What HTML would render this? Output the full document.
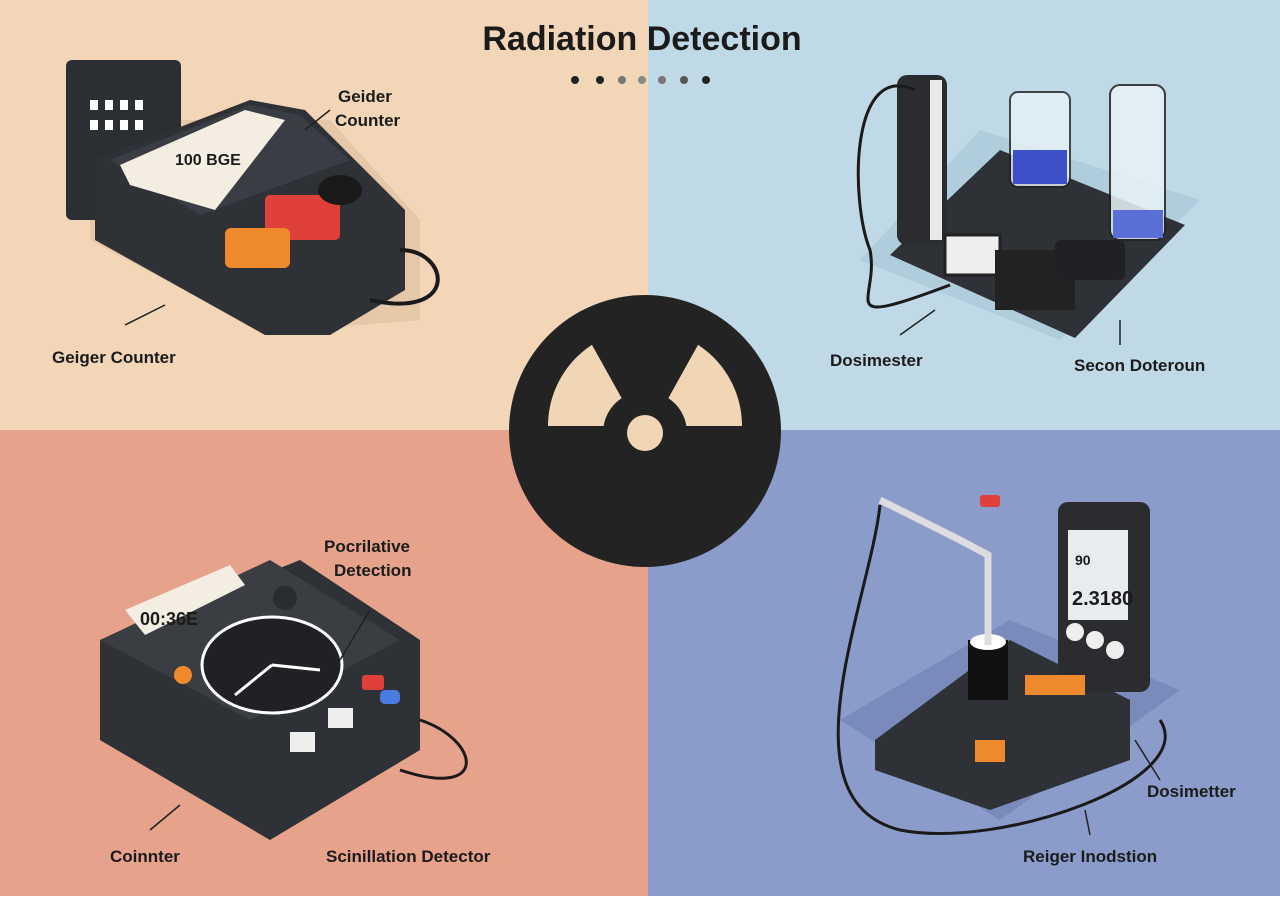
<!DOCTYPE html>
<html><head><meta charset="utf-8"><style>
body{margin:0;width:1280px;height:896px;overflow:hidden;font-family:"Liberation Sans",sans-serif}
svg text{font-family:"Liberation Sans",sans-serif;font-weight:bold;fill:#1b1b1b}
</style></head><body>
<svg width="1280" height="896" viewBox="0 0 1280 896" xmlns="http://www.w3.org/2000/svg">
<rect x="0" y="0" width="648" height="430" fill="#f2d6b7"/>
<rect x="648" y="0" width="632" height="430" fill="#bfdae6"/>
<rect x="0" y="430" width="648" height="466" fill="#e6a28b"/>
<rect x="648" y="430" width="632" height="466" fill="#8b9cca"/>
<text x="642" y="50" font-size="34" text-anchor="middle">Radiation Detection</text>
<g fill="#222"><circle cx="575" cy="80" r="4"/><circle cx="600" cy="80" r="4"/><circle cx="622" cy="80" r="4" fill="#777"/><circle cx="642" cy="80" r="4" fill="#888"/><circle cx="662" cy="80" r="4" fill="#777"/><circle cx="684" cy="80" r="4" fill="#555"/><circle cx="706" cy="80" r="4"/></g>

<!-- TL device -->
<polygon points="90,140 170,120 330,120 420,220 420,320 300,330 260,330 90,240" fill="#d9b99a" opacity="0.5"/>
<rect x="66" y="60" width="115" height="160" rx="6" fill="#2b2e33"/>
<g fill="#fff"><rect x="90" y="100" width="8" height="10"/><rect x="105" y="100" width="8" height="10"/><rect x="120" y="100" width="8" height="10"/><rect x="135" y="100" width="8" height="10"/><rect x="90" y="120" width="8" height="10"/><rect x="105" y="120" width="8" height="10"/><rect x="120" y="120" width="8" height="10"/><rect x="135" y="120" width="8" height="10"/></g>
<polygon points="95,160 250,100 305,110 405,210 405,290 330,335 265,335 95,240" fill="#2e3136"/>
<polygon points="110,160 250,105 300,115 350,160 200,215" fill="#3a3d43"/>
<polygon points="120,165 245,110 285,120 215,210 130,185" fill="#f3ede2"/>
<text x="175" y="165" font-size="16" fill="#222">100 BGE</text>
<rect x="265" y="195" width="75" height="45" rx="5" fill="#e0403c"/>
<rect x="225" y="228" width="65" height="40" rx="6" fill="#ef8a2c"/>
<ellipse cx="340" cy="190" rx="22" ry="15" fill="#1a1a1a"/>
<path d="M400,250 C450,250 460,320 370,300" stroke="#1a1a1a" stroke-width="4" fill="none"/>
<path d="M305,130 L330,110" stroke="#222" stroke-width="1.5"/>
<text x="338" y="102" font-size="17">Geider</text>
<text x="335" y="126" font-size="17">Counter</text>
<path d="M165,305 L125,325" stroke="#222" stroke-width="1.5"/>
<text x="52" y="363" font-size="17">Geiger Counter</text>

<!-- TR device -->
<polygon points="860,260 980,130 1200,200 1060,340" fill="#a8c8d6" opacity="0.7"/>
<polygon points="890,255 1000,150 1185,225 1075,338" fill="#2e3136"/>
<rect x="897" y="75" width="50" height="170" rx="10" fill="#2a2c30"/>
<rect x="930" y="80" width="12" height="160" fill="#e8e8e8"/>
<rect x="1010" y="92" width="60" height="95" rx="8" fill="#e8f3f8" stroke="#222" stroke-width="2" opacity="0.8"/>
<rect x="1013" y="150" width="54" height="34" fill="#3f51c9"/>
<rect x="1110" y="85" width="55" height="155" rx="10" fill="#e8f3f8" stroke="#222" stroke-width="2" opacity="0.85"/>
<rect x="1113" y="210" width="50" height="28" fill="#5a6fd6"/>
<rect x="945" y="235" width="55" height="40" fill="#eee" stroke="#222" stroke-width="3"/>
<rect x="995" y="250" width="80" height="60" fill="#222"/>
<rect x="1055" y="240" width="70" height="40" rx="6" fill="#1f2125"/>
<path d="M915,90 C850,60 850,200 870,250 C880,300 830,330 950,285" stroke="#1a1a1a" stroke-width="3" fill="none"/>
<path d="M935,310 L900,335" stroke="#222" stroke-width="1.5"/>
<text x="830" y="366" font-size="17">Dosimester</text>
<path d="M1120,320 L1120,345" stroke="#222" stroke-width="1.5"/>
<text x="1074" y="371" font-size="17">Secon Doteroun</text>

<!-- BL device -->
<polygon points="100,640 300,560 420,640 420,750 270,840 100,740" fill="#2e3136"/>
<polygon points="100,640 270,560 400,640 250,720" fill="#3a3d42"/>
<polygon points="125,610 230,565 245,585 145,635" fill="#f3ede2"/>
<text x="140" y="625" font-size="18" fill="#222">00:36E</text>
<ellipse cx="272" cy="665" rx="70" ry="48" fill="#1f2125" stroke="#fff" stroke-width="3"/>
<path d="M272,665 L235,695 M272,665 L320,670" stroke="#fff" stroke-width="3"/>
<circle cx="285" cy="598" r="12" fill="#2a2c30"/>
<circle cx="183" cy="675" r="9" fill="#ef8a2c"/>
<rect x="362" y="675" width="22" height="15" rx="3" fill="#e0403c"/>
<rect x="380" y="690" width="20" height="14" rx="5" fill="#4a7be0"/>
<rect x="290" y="732" width="25" height="20" fill="#eee"/>
<rect x="328" y="708" width="25" height="20" fill="#eee"/>
<path d="M420,720 C480,740 490,800 400,770" stroke="#1a1a1a" stroke-width="3" fill="none"/>
<path d="M370,610 L340,660" stroke="#222" stroke-width="1.5"/>
<text x="324" y="552" font-size="17">Pocrilative</text>
<text x="334" y="576" font-size="17">Detection</text>
<path d="M180,805 L150,830" stroke="#222" stroke-width="1.5"/>
<text x="110" y="862" font-size="17">Coinnter</text>
<text x="326" y="862" font-size="17">Scinillation Detector</text>

<!-- BR device -->
<polygon points="840,720 1010,620 1180,690 1000,820" fill="#7a8bbb"/>
<polygon points="875,740 1010,640 1130,700 1130,760 990,810 875,770" fill="#2e3136"/>
<rect x="1058" y="502" width="92" height="190" rx="10" fill="#2a2c30"/>
<rect x="1068" y="530" width="60" height="90" fill="#e8ecf0"/>
<text x="1075" y="565" font-size="14" fill="#222">90</text>
<text x="1072" y="605" font-size="20" fill="#222">2.3180</text>
<circle cx="1075" cy="632" r="9" fill="#eee"/><circle cx="1095" cy="640" r="9" fill="#eee"/><circle cx="1115" cy="650" r="9" fill="#eee"/>
<rect x="968" y="640" width="40" height="60" fill="#111"/><ellipse cx="988" cy="642" rx="18" ry="8" fill="#fff"/>
<path d="M988,645 L988,555 L960,540 L880,500" stroke="#ddd" stroke-width="7" fill="none"/>
<path d="M880,505 C870,600 780,800 900,830 C1000,850 1200,780 1160,720" stroke="#1a1a1a" stroke-width="3" fill="none"/>
<rect x="980" y="495" width="20" height="12" rx="3" fill="#e0403c"/>
<rect x="1025" y="675" width="60" height="20" fill="#ef8a2c"/>
<rect x="975" y="740" width="30" height="22" fill="#ef8a2c"/>
<path d="M1135,740 L1160,780" stroke="#222" stroke-width="1.5"/>
<text x="1147" y="797" font-size="17">Dosimetter</text>
<path d="M1085,810 L1090,835" stroke="#222" stroke-width="1.5"/>
<text x="1023" y="862" font-size="17">Reiger Inodstion</text>

<!-- center symbol -->
<circle cx="645" cy="431" r="136" fill="#232323"/>
<path d="M548,426 A97,97 0 0 1 742,426 Z" fill="#f0d6b5"/>
<polygon points="577,318 713,318 645,440" fill="#232323"/>
<circle cx="645" cy="433" r="42" fill="#232323"/>
<circle cx="645" cy="433" r="18" fill="#f0d6b5"/>
</svg>
</body></html>
